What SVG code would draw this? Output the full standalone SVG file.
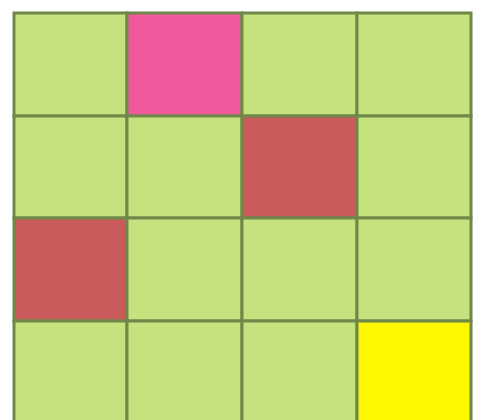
<svg xmlns="http://www.w3.org/2000/svg" width="477" height="420" viewBox="0 0 477 420">
<style>
.c{stroke:#6f8748;stroke-width:3}
.g{fill:#c6e27f}
.p{fill:#f2589c}
.r{fill:#c95b5b}
.y{fill:#fdf700}
</style>
<rect width="477" height="420" fill="#ffffff"/>
<g id="row1">
<rect id="c11" class="c g" x="14" y="13" width="113" height="103"/>
<rect id="c12" class="c p" x="127" y="13" width="115" height="103"/>
<rect id="c13" class="c g" x="242" y="13" width="115" height="103"/>
<rect id="c14" class="c g" x="357" y="13" width="114" height="103"/>
</g>
<g id="row2">
<rect id="c21" class="c g" x="14" y="116" width="113" height="102"/>
<rect id="c22" class="c g" x="127" y="116" width="115" height="102"/>
<rect id="c23" class="c r" x="242" y="116" width="115" height="102"/>
<rect id="c24" class="c g" x="357" y="116" width="114" height="102"/>
</g>
<g id="row3">
<rect id="c31" class="c r" x="14" y="218" width="113" height="103"/>
<rect id="c32" class="c g" x="127" y="218" width="115" height="103"/>
<rect id="c33" class="c g" x="242" y="218" width="115" height="103"/>
<rect id="c34" class="c g" x="357" y="218" width="114" height="103"/>
</g>
<g id="row4">
<rect id="c41" class="c g" x="14" y="321" width="113" height="101"/>
<rect id="c42" class="c g" x="127" y="321" width="115" height="101"/>
<rect id="c43" class="c g" x="242" y="321" width="115" height="101"/>
<rect id="c44" class="c y" x="357" y="321" width="114" height="101"/>
</g>
</svg>
